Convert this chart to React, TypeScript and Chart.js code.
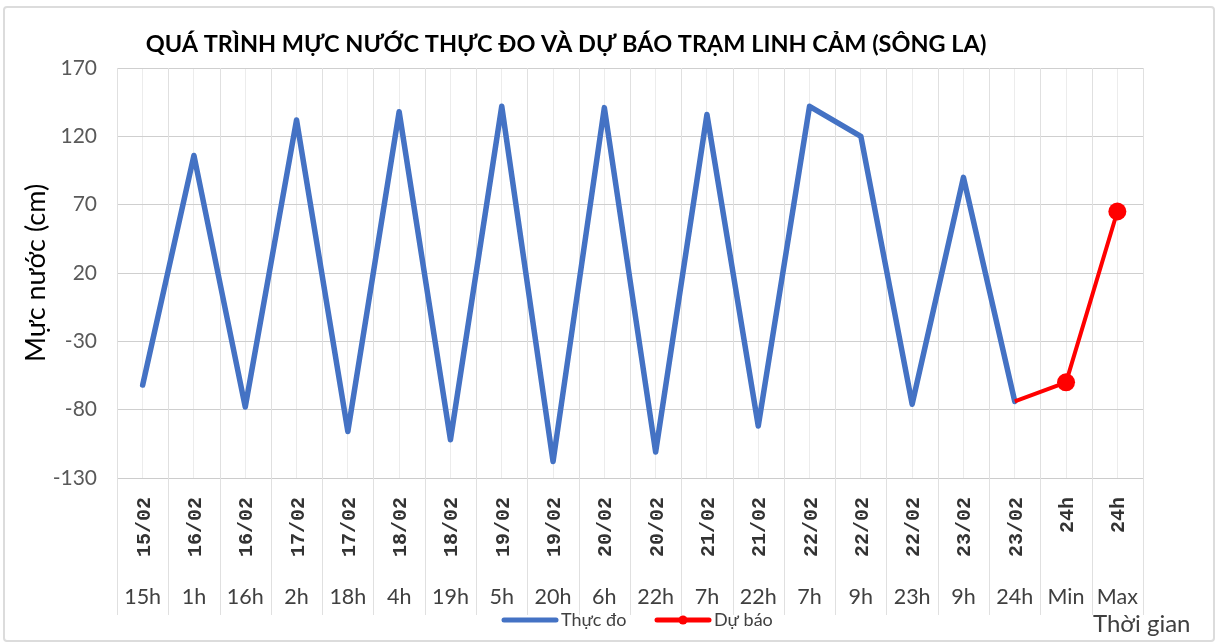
import { useEffect, useRef } from 'react';
import { Chart, registerables } from 'chart.js';

Chart.register(...registerables);

const dateLabels = ['15/02', '16/02', '16/02', '17/02', '17/02', '18/02', '18/02', '19/02', '19/02', '20/02', '20/02', '21/02', '21/02', '22/02', '22/02', '22/02', '23/02', '23/02', '24h', '24h'];
const hourLabels = ['15h', '1h', '16h', '2h', '18h', '4h', '19h', '5h', '20h', '6h', '22h', '7h', '22h', '7h', '9h', '23h', '9h', '24h', 'Min', 'Max'];
const observedValues = [-62, 106, -78, 132, -96, 138, -102, 142, -118, 141, -111, 136, -92, 142, 120, -76, 90, -74, null, null];
const forecastValues = [null, null, null, null, null, null, null, null, null, null, null, null, null, null, null, null, null, -74, -60, 65];
const seriesNames = ['Thực đo', 'Dự báo'];
const Y_MIN = -130;
const Y_MAX = 170;
const Y_STEP = 50;
const TITLE = 'QUÁ TRÌNH MỰC NƯỚC THỰC ĐO VÀ DỰ BÁO TRẠM LINH CẢM (SÔNG LA)';
const Y_TITLE = 'Mực nước (cm)';
const X_TITLE = 'Thời gian';

const BLUE = '#4472C4';
const RED = '#FF0000';

const decorPlugin = {
  id: 'decor',
  beforeDatasetsDraw(chart: any) {
    const { ctx, chartArea, scales } = chart;
    const x = scales.x;
    const n = hourLabels.length;
    const half = (x.getPixelForValue(1) - x.getPixelForValue(0)) / 2;
    ctx.save();
    ctx.lineWidth = 1;
    ctx.strokeStyle = '#e0e0e0';
    for (let i = 0; i <= n; i++) {
      const px = Math.round(x.getPixelForValue(0) - half + i * 2 * half) + 0.5;
      ctx.beginPath();
      ctx.moveTo(px, chartArea.top);
      ctx.lineTo(px, 615);
      ctx.stroke();
    }
    ctx.restore();
  },
  afterDraw(chart: any) {
    const { ctx, scales } = chart;
    const x = scales.x;
    ctx.save();
    // title
    ctx.fillStyle = '#000000';
    ctx.font = 'bold 23.5px Lato';
    ctx.textAlign = 'center';
    ctx.textBaseline = 'middle';
    ctx.fillText(TITLE, 566, 44);

    // category labels
    for (let i = 0; i < hourLabels.length; i++) {
      const px = x.getPixelForValue(i);
      ctx.save();
      ctx.translate(px + 2, 497);
      ctx.rotate(-Math.PI / 2);
      ctx.font = 'bold 20px "Liberation Mono"';
      ctx.fillStyle = '#333333';
      ctx.textAlign = 'right';
      ctx.textBaseline = 'middle';
      ctx.fillText(dateLabels[i], 0, 0);
      ctx.restore();
      ctx.font = '21.5px Lato';
      ctx.fillStyle = '#404040';
      ctx.textAlign = 'center';
      ctx.textBaseline = 'middle';
      ctx.fillText(hourLabels[i], px, 597);
    }

    // x title
    ctx.font = '24px Lato';
    ctx.fillStyle = '#404040';
    ctx.textAlign = 'left';
    ctx.textBaseline = 'middle';
    ctx.fillText(X_TITLE, 1093, 624);

    // legend
    const ds = chart.data.datasets;
    const legendY = 620;
    const items = [
      { ds: ds[0], x0: 502 },
      { ds: ds[1], x0: 655 },
    ];
    ctx.font = '18px Lato';
    for (const it of items) {
      ctx.strokeStyle = it.ds.borderColor;
      ctx.lineWidth = 5;
      ctx.lineCap = 'round';
      ctx.beginPath();
      ctx.moveTo(it.x0 + 2, legendY);
      ctx.lineTo(it.x0 + 54, legendY);
      ctx.stroke();
      if (it.ds === ds[1]) {
        ctx.fillStyle = it.ds.borderColor;
        ctx.beginPath();
        ctx.arc(it.x0 + 28, legendY, 4.5, 0, Math.PI * 2);
        ctx.fill();
      }
      ctx.fillStyle = '#404040';
      ctx.textAlign = 'left';
      ctx.textBaseline = 'middle';
      ctx.fillText(it.ds.label, it.x0 + 59, legendY);
    }
    ctx.restore();
  },
};

export default function App() {
  const ref = useRef<HTMLCanvasElement | null>(null);
  useEffect(() => {
    if (!ref.current) return;
    const labels = hourLabels.map((h, i) => dateLabels[i] + ' ' + h);
    const chart = new Chart(ref.current, {
      type: 'line',
      data: {
        labels,
        datasets: [
          {
            label: seriesNames[0],
            data: observedValues,
            borderColor: BLUE,
            backgroundColor: BLUE,
            borderWidth: 5.5,
            borderJoinStyle: 'round',
            borderCapStyle: 'round',
            pointRadius: 0,
            spanGaps: false,
            order: 1,
          },
          {
            label: seriesNames[1],
            data: forecastValues,
            borderColor: RED,
            backgroundColor: RED,
            borderWidth: 4,
            borderJoinStyle: 'round',
            pointRadius: (c: any) => (c.dataIndex >= 18 ? 9 : 0),
            pointBorderWidth: 0,
            pointHoverRadius: 9,
            order: 0,
          },
        ],
      },
      options: {
        animation: false,
        responsive: false,
        layout: { padding: { top: 68, right: 74, left: 0, bottom: 0 } },
        plugins: {
          legend: { display: false },
          title: { display: false },
          tooltip: { enabled: false },
        },
        scales: {
          x: {
            type: 'category',
            offset: true,
            ticks: { display: false },
            grid: { display: true, offset: false, drawTicks: false, color: '#ececec' },
            border: { display: true, color: '#cccccc' },
            afterFit: (s: any) => {
              s.height = 166;
            },
          },
          y: {
            min: Y_MIN,
            max: Y_MAX,
            ticks: {
              stepSize: Y_STEP,
              font: { family: 'Lato', size: 21 },
              color: '#595959',
              padding: 20,
            },
            grid: { color: '#cfcfcf', drawTicks: false },
            border: { display: false },
            title: {
              display: true,
              text: Y_TITLE,
              font: { family: 'Lato', size: 27 },
              color: '#000000',
              padding: { top: 20, bottom: 0 },
            },
            afterFit: (s: any) => {
              s.width = 117;
            },
          },
        },
      },
      plugins: [decorPlugin],
    });
    return () => chart.destroy();
  }, []);
  return (
    <div style={{ position: 'absolute', left: 0, top: 0, width: 1217, height: 644, background: '#fff' }}>
      <div
        style={{
          position: 'absolute',
          left: 3,
          top: 6,
          width: 1208,
          height: 632,
          border: '2px solid #dcdcdc',
          borderRadius: 4,
        }}
      />
      <canvas ref={ref} width={1217} height={644} style={{ position: 'absolute', left: 0, top: 0 }} />
    </div>
  );
}
